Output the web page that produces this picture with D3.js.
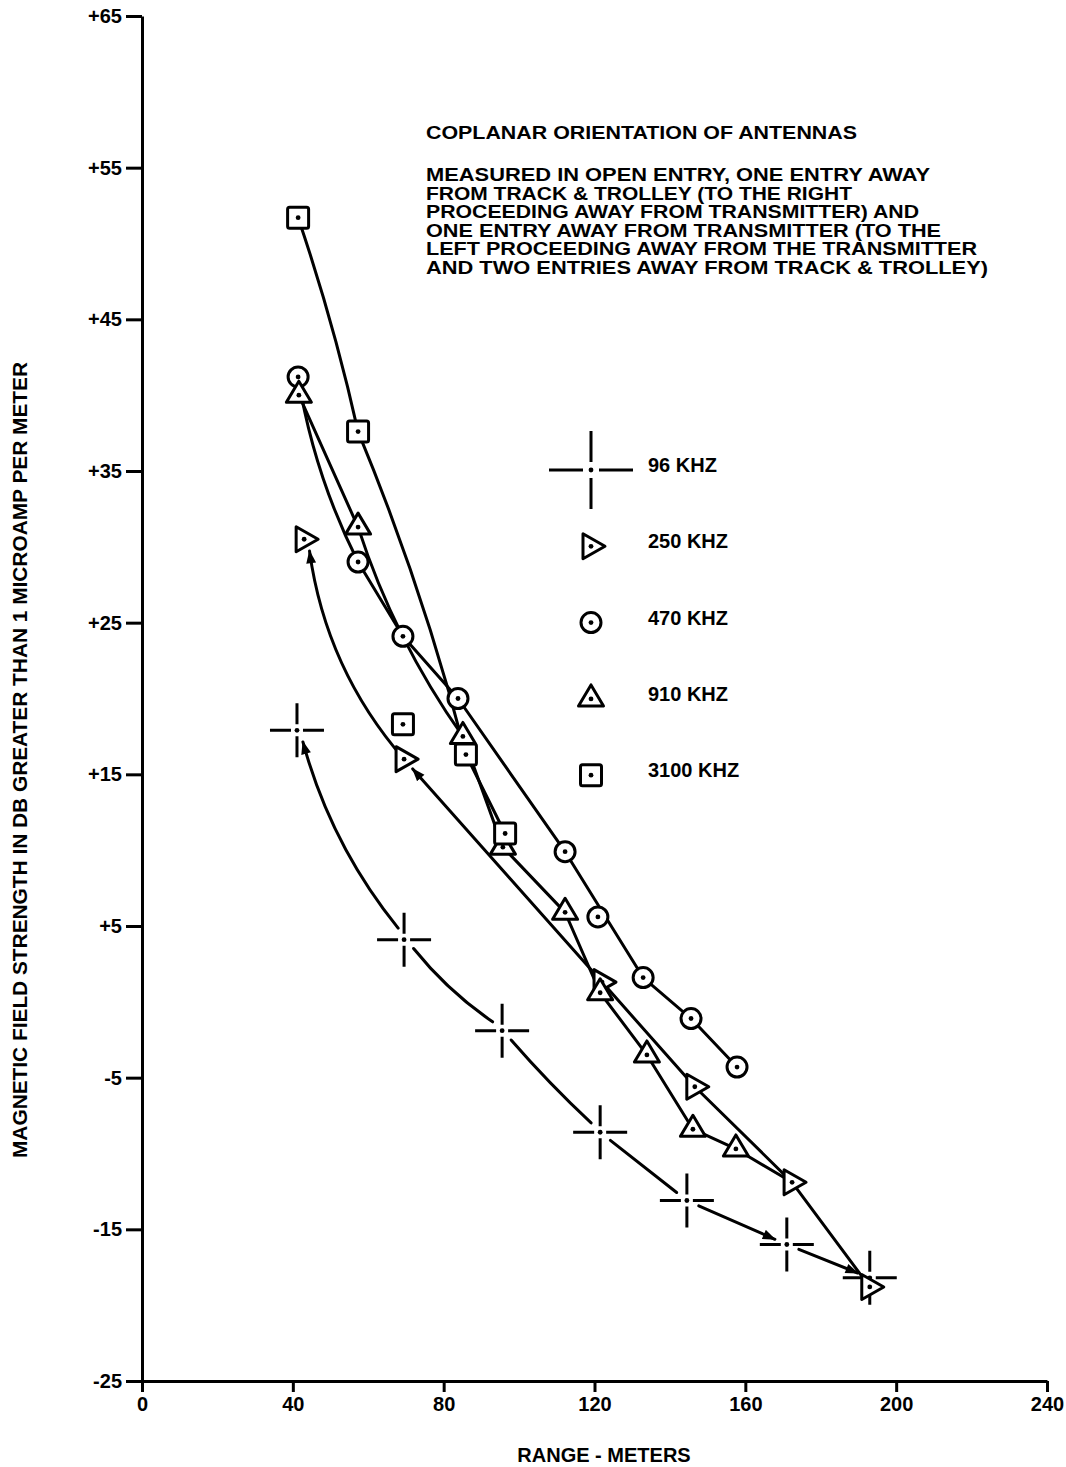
<!DOCTYPE html>
<html>
<head>
<meta charset="utf-8">
<script src="https://cdn.jsdelivr.net/npm/d3@7"></script>
<style>
  body { margin: 0; background: #fff; }
  svg text { font-family: "Liberation Sans", Arial, Helvetica, sans-serif; font-weight: bold; fill: #000; }
</style>
</head>
<body>
<svg id="chart" width="1066" height="1467"></svg>
<script>
// ---------------- DATA ----------------
const xTickValues = [0, 40, 80, 120, 160, 200, 240];
const yTickValues = [65, 55, 45, 35, 25, 15, 5, -5, -15, -25];
const yTickLabels = ["+65", "+55", "+45", "+35", "+25", "+15", "+5", "-5", "-15", "-25"];

const seriesKeys = ["96", "250", "470", "910", "3100"];
const seriesLabels = ["96 KHZ", "250 KHZ", "470 KHZ", "910 KHZ", "3100 KHZ"];

const range96 = [41.1, 69.5, 95.5, 121.5, 144.5, 171.0, 193.0];
const db96    = [17.9, 4.1, -1.9, -8.6, -13.1, -16.0, -18.2];

const range250 = [43.0, 69.5, 122.0, 146.6, 172.4, 193.0];
const db250    = [30.5, 16.0, 1.3, -5.6, -11.9, -18.8];

const range470 = [41.4, 57.3, 69.2, 83.8, 112.2, 120.9, 132.9, 145.6, 157.8];
const db470    = [41.2, 29.0, 24.1, 20.0, 9.9, 5.6, 1.6, -1.1, -4.3];

const range910 = [41.6, 57.3, 85.1, 95.7, 112.2, 121.5, 133.9, 146.1, 157.5];
const db910    = [40.0, 31.3, 17.5, 10.2, 5.9, 0.6, -3.5, -8.4, -9.7];

const range3100 = [41.4, 57.3, 69.2, 85.9, 96.3];
const db3100    = [51.7, 37.6, 18.3, 16.3, 11.1];

const titleText = "COPLANAR ORIENTATION OF ANTENNAS";
const noteLines = [
  "MEASURED IN OPEN ENTRY, ONE ENTRY AWAY",
  "FROM TRACK & TROLLEY (TO THE RIGHT",
  "PROCEEDING AWAY FROM TRANSMITTER) AND",
  "ONE ENTRY AWAY FROM TRANSMITTER (TO THE",
  "LEFT PROCEEDING AWAY FROM THE TRANSMITTER",
  "AND TWO ENTRIES AWAY FROM TRACK & TROLLEY)"
];
const xTitle = "RANGE - METERS";
const yTitle = "MAGNETIC FIELD STRENGTH IN DB GREATER THAN 1 MICROAMP PER METER";

// ---------------- SETUP ----------------
const seriesData = {
  "96":   { range: range96,   db: db96,   shape: "cross" },
  "250":  { range: range250,  db: db250,  shape: "triRight" },
  "470":  { range: range470,  db: db470,  shape: "circle" },
  "910":  { range: range910,  db: db910,  shape: "triUp" },
  "3100": { range: range3100, db: db3100, shape: "square" }
};

const svg = d3.select("#chart");
const x = d3.scaleLinear().domain([0, 240]).range([142, 1047]);
const y = d3.scaleLinear().domain([-25, 65]).range([1381, 16]);
const FONT = 20;

// arrow marker
const defs = svg.append("defs");
defs.append("marker")
  .attr("id", "arrow")
  .attr("viewBox", "0 -5 12 10")
  .attr("refX", 11).attr("refY", 0)
  .attr("markerUnits", "userSpaceOnUse")
  .attr("markerWidth", 14).attr("markerHeight", 11)
  .attr("orient", "auto-start-reverse")
  .append("path").attr("d", "M0,-4.5L12,0L0,4.5Z").attr("fill", "#000");

// ---------------- AXES ----------------
const xAxis = svg.append("g")
  .attr("transform", `translate(0,${y(-25)})`)
  .call(d3.axisBottom(x).tickValues(xTickValues).tickFormat(d => String(d))
        .tickSize(11).tickSizeOuter(0).tickPadding(5));
const yAxis = svg.append("g")
  .attr("transform", `translate(${x(0)},0)`)
  .call(d3.axisLeft(y).tickValues(yTickValues).tickFormat((d, i) => yTickLabels[i])
        .tickSize(16).tickSizeOuter(0).tickPadding(4));
[xAxis, yAxis].forEach(g => {
  g.attr("font-family", null).attr("font-size", null);
  g.select(".domain").attr("stroke", "#000").attr("stroke-width", 3);
  g.selectAll(".tick line").attr("stroke", "#000").attr("stroke-width", 3);
  g.selectAll(".tick text").style("font-size", FONT + "px").attr("fill", "#000");
});

// axis titles
svg.append("text").attr("x", 604).attr("y", 1462).attr("text-anchor", "middle")
  .style("font-size", FONT + "px").text(xTitle);
svg.append("text").attr("transform", "translate(27,760) rotate(-90)")
  .attr("text-anchor", "middle").style("font-size", FONT + "px")
  .attr("textLength", 796).attr("lengthAdjust", "spacingAndGlyphs").text(yTitle);

// annotation
svg.append("text").attr("x", 426).attr("y", 139).style("font-size", "18px")
  .attr("textLength", 431).attr("lengthAdjust", "spacingAndGlyphs").text(titleText);
const noteWidths = [504, 426, 493, 515, 551, 562];
svg.append("g").selectAll("text").data(noteLines).join("text")
  .attr("x", 426).attr("y", (d, i) => 181 + i * 18.6)
  .style("font-size", "17.5px")
  .attr("textLength", (d, i) => noteWidths[i]).attr("lengthAdjust", "spacingAndGlyphs")
  .text(d => d);

// ---------------- CURVES ----------------
// [fromIndex, toIndex or [seriesKey, index], bend(px), arrow at "start"/"end"]
const curveSpec = {
  "96":   [[0,1,22,"start"],[1,2,8],[2,3,3],[3,4,0],[4,5,0,"end"],[5,6,0,"end"]],
  "250":  [[0,1,34,"start"],[1,2,0,"start"],[2,3,0],[3,4,0],[4,5,0]],
  "470":  [[0,1,15],[1,2,0],[2,3,0],[3,4,0],[4,6,0],[6,7,0],[7,8,0]],
  "910":  [[0,1,0],[1,2,18],[2,3,0],[3,4,0],[4,5,0],[5,6,0],[6,7,0],[7,8,0],[8,["250",4],0]],
  "3100": [[0,1,-6],[1,3,-12],[3,4,0]]
};

function pt(key, i) {
  const s = seriesData[key];
  return [x(s.range[i]), y(s.db[i])];
}
function segPath(a, b, bend, gA, gB) {
  const dx = b[0] - a[0], dy = b[1] - a[1], L = Math.hypot(dx, dy);
  const ux = dx / L, uy = dy / L;
  const a2 = [a[0] + ux * gA, a[1] + uy * gA];
  const b2 = [b[0] - ux * gB, b[1] - uy * gB];
  const mx = (a2[0] + b2[0]) / 2, my = (a2[1] + b2[1]) / 2;
  const c = [mx - uy * bend, my + ux * bend];
  return `M${a2[0]},${a2[1]}Q${c[0]},${c[1]} ${b2[0]},${b2[1]}`;
}

const lineG = svg.append("g").attr("fill", "none").attr("stroke", "#000")
  .attr("stroke-width", 3).attr("stroke-linecap", "round");
seriesKeys.forEach(key => {
  curveSpec[key].forEach(sp => {
    const a = pt(key, sp[0]);
    const b = Array.isArray(sp[1]) ? pt(sp[1][0], sp[1][1]) : pt(key, sp[1]);
    const isCross = key === "96";
    const gA = isCross ? 13 : (sp[3] === "start" ? 13 : 0);
    const gB = isCross ? 13 : (sp[3] === "end" ? 13 : 0);
    const p = lineG.append("path").attr("d", segPath(a, b, sp[2], gA, gB));
    if (sp[3] === "start") p.attr("marker-start", "url(#arrow)");
    if (sp[3] === "end") p.attr("marker-end", "url(#arrow)");
  });
});

// ---------------- MARKERS ----------------
function drawMarker(g, shape, cx, cy, big) {
  const m = g.append("g").attr("transform", `translate(${cx},${cy})`);
  const st = { stroke: "#000", "stroke-width": 3, fill: "#fff", "stroke-linejoin": "round" };
  const apply = sel => { Object.entries(st).forEach(([k, v]) => sel.attr(k, v)); return sel; };
  if (shape === "cross") {
    const hx = big ? 42 : 27, vy = big ? 39 : 27, gap = big ? 8 : 6;
    m.append("path")
      .attr("d", `M${-hx},0H${-gap}M${gap},0H${hx}M0,${-vy}V${-gap}M0,${gap}V${vy}`)
      .attr("stroke", "#000").attr("stroke-width", 3).attr("fill", "none");
  } else if (shape === "circle") {
    apply(m.append("circle").attr("r", 10));
  } else if (shape === "square") {
    apply(m.append("rect").attr("x", -10.5).attr("y", -10.5).attr("width", 21).attr("height", 21).attr("rx", 2));
  } else if (shape === "triUp") {
    apply(m.append("path").attr("d", "M0,-14L12.5,7L-12.5,7Z"));
  } else if (shape === "triRight") {
    apply(m.append("path").attr("d", "M-8,-12.5L14,0L-8,12.5Z"));
  }
  m.append("circle").attr("r", 2.4).attr("fill", "#000");
}

const markG = svg.append("g");
seriesKeys.forEach(key => {
  const s = seriesData[key];
  s.range.forEach((r, i) => drawMarker(markG, s.shape, x(r), y(s.db[i]), false));
});

// ---------------- LEGEND ----------------
const legG = svg.append("g");
seriesKeys.forEach((key, i) => {
  const ly = 470 + i * 76.3;
  drawMarker(legG, seriesData[key].shape, 591, ly, true);
  legG.append("text").attr("x", 648).attr("y", ly + 2).style("font-size", FONT + "px")
    .text(seriesLabels[i]);
});
</script>
</body>
</html>
